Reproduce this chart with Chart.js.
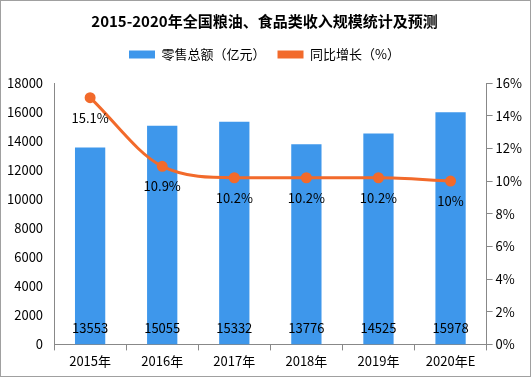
<html>
<head>
    <script src="https://cdn.jsdelivr.net/npm/chart.js@4/dist/chart.umd.min.js"></script>
    <style>
        body { margin: 0; background: #fff; }
        #wrap { position: relative; width: 529px; height: 375px; border: 1px solid #a0a0a0; }
    </style>
</head>
<body>
    <div id="wrap"><canvas id="myChart" width="529" height="375"></canvas></div>
    <script>
        const years = ['2015年', '2016年', '2017年', '2018年', '2019年', '2020年E']
        const sales = [13553, 15055, 15332, 13776, 14525, 15978]
        const growth = [15.1, 10.9, 10.2, 10.2, 10.2, 10]
        const growthLabels = ['15.1%', '10.9%', '10.2%', '10.2%', '10.2%', '10%']

        const font = '"Noto Sans CJK SC", "DejaVu Sans", sans-serif'

        // draw the value labels
        const labelPlugin = {
            id: 'labels',
            beforeInit(chart) {
                // extra space under the legend
                const fit = chart.legend.fit
                chart.legend.fit = function () {
                    fit.call(this)
                    this.height += 12
                }
            },
            afterDatasetsDraw(chart) {
                const ctx = chart.ctx
                ctx.save()
                ctx.font = '13px ' + font
                ctx.fillStyle = '#000'
                ctx.textAlign = 'center'
                ctx.textBaseline = 'middle'
                const bars = chart.getDatasetMeta(1).data
                bars.forEach((b, i) => {
                    ctx.fillText(String(sales[i]), b.x, chart.scales.y.bottom - 16)
                })
                const pts = chart.getDatasetMeta(0).data
                pts.forEach((p, i) => {
                    ctx.fillText(growthLabels[i], p.x, p.y + 20)
                })
                ctx.restore()
            }
        }

        const ctx = document.getElementById('myChart').getContext('2d')
        const myChart = new Chart(ctx, {
            data: {
                labels: years,
                datasets: [{
                    type: 'line',
                    label: '同比增长（%）',
                    data: growth,
                    yAxisID: 'y1',
                    borderColor: '#f26a2b',
                    backgroundColor: '#f26a2b',
                    borderWidth: 3,
                    pointRadius: 4,
                    pointBackgroundColor: '#f26a2b',
                    tension: 0.4,
                    cubicInterpolationMode: 'monotone',
                    order: 0
                }, {
                    type: 'bar',
                    label: '零售总额（亿元）',
                    data: sales,
                    yAxisID: 'y',
                    backgroundColor: '#3e97eb',
                    categoryPercentage: 1,
                    barPercentage: 0.42,
                    order: 1
                }]
            },
            options: {
                responsive: false,
                animation: false,
                layout: { padding: { left: 3, right: 5, top: 4, bottom: 4 } },
                plugins: {
                    title: {
                        display: true,
                        text: '2015-2020年全国粮油、食品类收入规模统计及预测',
                        color: '#000',
                        font: { family: font, size: 15, weight: 'bold' },
                        padding: { top: 7, bottom: 6 }
                    },
                    legend: {
                        reverse: true,
                        labels: {
                            color: '#000',
                            font: { family: font, size: 13 },
                            boxWidth: 26,
                            boxHeight: 8,
                            padding: 12,
                            generateLabels(chart) {
                                const items = Chart.defaults.plugins.legend.labels.generateLabels(chart)
                                items.forEach(it => { it.lineWidth = 0; it.strokeStyle = 'rgba(0,0,0,0)' })
                                return items
                            }
                        }
                    },
                    tooltip: { enabled: false }
                },
                scales: {
                    x: {
                        grid: { display: true, drawOnChartArea: false, offset: true, tickLength: 6, color: '#888' },
                        border: { color: '#888' },
                        ticks: { color: '#000', font: { family: font, size: 13 } }
                    },
                    y: {
                        position: 'left',
                        min: 0,
                        max: 18000,
                        grid: { display: false },
                        border: { display: true, color: '#888' },
                        ticks: { stepSize: 2000, color: '#000', font: { family: font, size: 13 }, callback: v => String(v) }
                    },
                    y1: {
                        position: 'right',
                        min: 0,
                        max: 16,
                        grid: { drawOnChartArea: false, tickLength: 6, color: '#888' },
                        border: { color: '#888' },
                        ticks: { stepSize: 2, color: '#000', font: { family: font, size: 13 }, callback: v => v + '%' }
                    }
                }
            },
            plugins: [labelPlugin]
        })
    </script>
</body>
</html>
